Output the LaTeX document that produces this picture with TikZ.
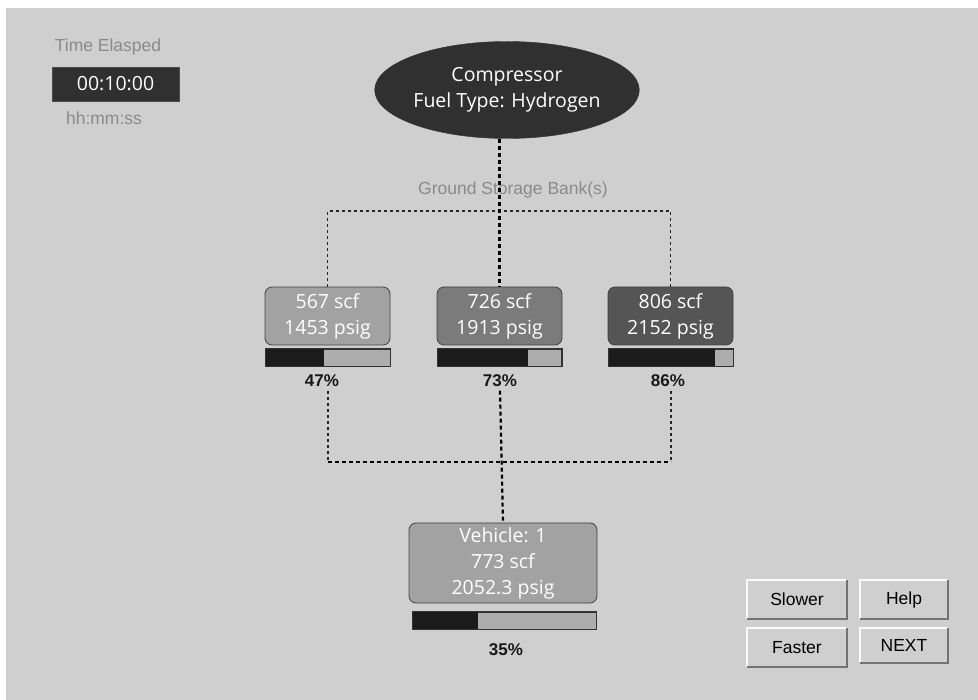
\documentclass[tikz,border=0pt]{standalone}
\usepackage{fontspec}
\setmainfont{Open Sans}
\newfontfamily\arialf{Liberation Sans}
\usetikzlibrary{shapes.geometric}
\definecolor{bg}{HTML}{CFCFCF}
\definecolor{lbl}{HTML}{8A8A8A}
\definecolor{tankA}{HTML}{A2A2A2}
\definecolor{tankB}{HTML}{7B7B7B}
\definecolor{tankC}{HTML}{555555}
\definecolor{barlight}{HTML}{ADADAD}
\definecolor{barfill}{HTML}{1B1B1B}
\definecolor{darkfill}{HTML}{303030}
\begin{document}
\begin{tikzpicture}[x=1pt,y=-1pt,
  boxtxt/.style={font=\fontsize{19.5}{26}\selectfont, text=white, align=center},
  tank/.style={boxtxt, draw=black!75, line width=0.8pt, rounded corners=7pt, minimum width=125pt, minimum height=58pt, inner sep=0pt},
  barbox/.style={draw=black!80, line width=0.8pt, fill=barlight, minimum height=17pt, inner sep=0pt},
  baredge/.style={draw=black!80, line width=0.8pt},
  pct/.style={font=\arialf\bfseries\fontsize{17}{20}\selectfont, text=black!90},
  glabel/.style={font=\arialf\fontsize{17.5}{20}\selectfont, text=lbl},
  thinline/.style={line width=1.2pt, dash pattern=on 3pt off 3pt, black!85},
  thickline/.style={line width=2.2pt, dash pattern=on 4pt off 3pt, black},
  btn/.style={fill=bg, minimum height=39pt, inner sep=0pt, font=\arialf\fontsize{17.5}{20}\selectfont},
  bevellight/.style={white!90!bg, line width=1.5pt},
  beveldark/.style={black!55, line width=2pt}
]
\useasboundingbox (0,0) rectangle (978,700);
\fill[white] (0,0) rectangle (978,700);
\fill[bg] (6,8) rectangle (978,700);

% timer
\node[glabel] (tlabel) at (108,47) {Time Elasped};
\node[fill=darkfill, draw=black!70, line width=0.8pt, minimum width=127pt, minimum height=34pt, inner sep=0pt,
      font=\fontsize{19.5}{22}\selectfont, text=white] (timer) at (115.5,84) {00:10:00};
\node[glabel] (tunit) at (104,118) {hh:mm:ss};

% compressor
\node[ellipse, fill=darkfill, draw=darkfill, minimum width=240pt, minimum height=97pt, inner sep=0pt,
      boxtxt] (comp) at (507,90) {Compressor\\Fuel Type: Hydrogen};

\node[glabel] (gsb) at (513,190) {Ground Storage Bank(s)};

% banks
\node[tank, fill=tankA] (bank1) at (327.5,316) {567 scf\\1453 psig};
\node[tank, fill=tankB] (bank2) at (499.5,316) {726 scf\\1913 psig};
\node[tank, fill=tankC] (bank3) at (670.5,316) {806 scf\\2152 psig};

\node[barbox, minimum width=124pt] (bar1) at (328,357.5) {};
\node[barbox, minimum width=124pt] (bar2) at (499.5,357.5) {};
\node[barbox, minimum width=124pt] (bar3) at (671,357.5) {};
\fill[barfill] (bar1.north west) rectangle ([xshift={0.47*124pt}]bar1.south west);
\fill[barfill] (bar2.north west) rectangle ([xshift={0.73*124pt}]bar2.south west);
\fill[barfill] (bar3.north west) rectangle ([xshift={0.86*124pt}]bar3.south west);
\draw[baredge] (bar1.north west) rectangle (bar1.south east);
\draw[baredge] (bar2.north west) rectangle (bar2.south east);
\draw[baredge] (bar3.north west) rectangle (bar3.south east);

\node[pct] (p1) at (322,381) {47\%};
\node[pct] (p2) at (500,381) {73\%};
\node[pct] (p3) at (668,381) {86\%};

% vehicle
\node[tank, fill=tankA, minimum width=188pt, minimum height=80pt] (veh) at (503,563) {Vehicle: 1\\773 scf\\2052.3 psig};
\node[barbox, minimum width=183pt] (vbar) at (504.5,620.5) {};
\fill[barfill] (vbar.north west) rectangle ([xshift={0.355*183pt}]vbar.south west);
\draw[baredge] (vbar.north west) rectangle (vbar.south east);
\node[pct] (p4) at (506,650) {35\%};

% connectors
\coordinate (top) at (500,211);
\coordinate (jl) at (328,462);
\coordinate (jr) at (671,462);
\draw[thinline] (bank1.north) |- (top) -| (bank3.north);
\draw[thickline] (comp.south -| bank2.north) -- (bank2.north);
\draw[thinline] (p1.south -| jl) -- (jl);
\draw[thinline] (p3.south -| jr) -- (jr);
\draw[thickline] (jl) -- (jr);
\draw[thickline] (p2.south) -- (veh.north);

% buttons
\node[btn, minimum width=100pt] (slower) at (797,599.5) {Slower};
\node[btn, minimum width=88pt] (help) at (904,599.5) {Help};
\node[btn, minimum width=100pt] (faster) at (797,647.5) {Faster};
\node[btn, minimum width=88pt, minimum height=35pt] (next) at (904,645.5) {NEXT};
\foreach \b in {slower,help,faster,next}{
  \draw[bevellight] (\b.south west) |- (\b.north east);
  \draw[beveldark] (\b.north east) |- (\b.south west);
}
\end{tikzpicture}
\end{document}
